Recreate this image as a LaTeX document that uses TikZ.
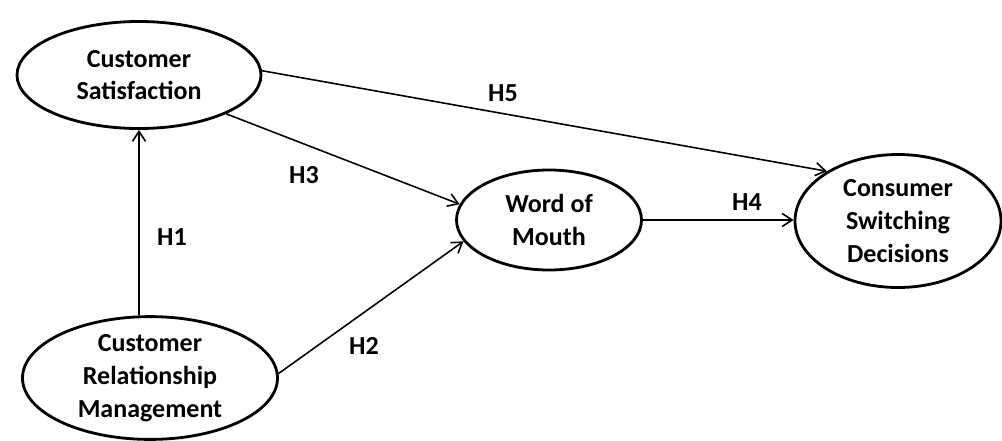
\documentclass[tikz,border=0pt]{standalone}
\usepackage{fontspec}
\setmainfont{Carlito}
\usetikzlibrary{shapes.geometric,arrows.meta}
\tikzset{
  construct/.style={draw, ellipse, line width=1.6pt, inner sep=0pt, align=center,
    font=\fontsize{14.8}{18.6}\selectfont\bfseries},
  arr/.style={line width=0.9pt, -{Straight Barb[length=2mm,width=2.6mm]}},
  hlabel/.style={font=\fontsize{14.8}{18}\selectfont\bfseries}
}
\begin{document}
\begin{tikzpicture}
\useasboundingbox (0,0) rectangle (20.04,-8.8);
\node[construct, minimum width=4.88cm, minimum height=2.14cm] (cs) at (2.78,-1.5) {Customer\\Satisfaction};
\node[construct, minimum width=5.1cm, minimum height=2.42cm] (crm) at (3.0,-7.56) {Customer\\Relationship\\Management};
\node[construct, minimum width=3.7cm, minimum height=2.0cm] (wom) at (10.98,-4.4) {Word of\\Mouth};
\node[construct, minimum width=4.12cm, minimum height=2.66cm] (csd) at (17.96,-4.42) {Consumer\\Switching\\Decisions};

\draw[arr] (crm.north -| cs.south) -- (cs.south);
\draw[arr] (cs.-24) -- (wom.170);
\draw[arr] (crm.2) -- (wom.194);
\draw[arr] (wom.east) -- (csd.west |- wom.east);
\draw[arr] (cs.2) -- (csd.145);

\node[hlabel] (h1) at (3.44,-4.74) {H1};
\node[hlabel] (h2) at (7.28,-6.92) {H2};
\node[hlabel] (h3) at (6.08,-3.5) {H3};
\node[hlabel] (h4) at (14.94,-4.04) {H4};
\node[hlabel] (h5) at (10.06,-1.86) {H5};
\end{tikzpicture}
\end{document}
